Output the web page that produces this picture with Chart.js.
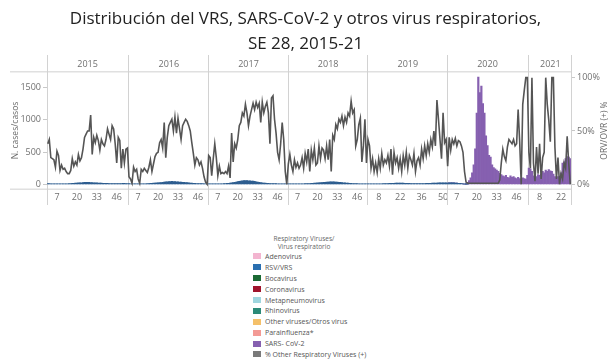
<!DOCTYPE html>
<html>
<head>
<meta charset="utf-8">
<script src="https://cdn.jsdelivr.net/npm/chart.js@4"></script>
<style>
  body { margin: 0; background: #fff; font-family: "Open Sans", sans-serif; }
  #wrap { position: relative; width: 611px; height: 362px; }
  #chartBox { position: absolute; left: 0; top: 0; width: 611px; height: 215px; }
  #legend { position: absolute; left: 253px; top: 235px; width: 140px; color: #555; }
  #legend .ttl { width: 98px; text-align: center; font-size: 6.5px; line-height: 8px; color: #666; margin-left: 2px; }
  #legend .item { display: flex; align-items: center; height: 10.9px; font-size: 7px; }
  #legend .sw { width: 8px; height: 6px; margin-right: 4px; }
</style>
</head>
<body>
<div id="wrap">
  <div id="chartBox"><canvas id="chart"></canvas></div>
  <div id="legend"></div>
</div>
<script>
// epi weeks per year and week numbers shown on the axis
const years = ['2015', '2016', '2017', '2018', '2019', '2020', '2021'];
const weeksInYear = [53, 52, 52, 52, 52, 53, 28];
const tickWeeks = [[7, 20, 33, 46], [7, 20, 33, 46], [7, 20, 33, 46], [7, 20, 33, 46], [8, 22, 36, 50], [7, 20, 33, 46], [8, 22]];

// % positive for other respiratory viruses (right axis)
const orv2015 = [38, 42, 25, 24, 23, 16, 31, 27, 13, 18, 14, 15, 12, 10, 10, 13, 24, 17, 21, 18, 28, 22, 25, 33, 44, 47, 50, 50, 65, 28, 44, 39, 46, 41, 32, 42, 38, 36, 42, 52, 47, 42, 55, 52, 38, 20, 44, 41, 15, 33, 20, 33, 34];
const orv2016 = [7, 5, 1, 16, 12, 14, 5, 1, 14, 12, 15, 13, 11, 16, 23, 12, 19, 26, 29, 30, 39, 42, 34, 58, 25, 44, 55, 58, 61, 50, 63, 48, 62, 52, 42, 55, 58, 61, 59, 55, 50, 39, 29, 18, 25, 23, 18, 21, 15, 7, 2, 0];
const orv2017 = [27, 25, 8, 24, 38, 25, 8, 17, 10, 11, 10, 12, 10, 17, 6, 48, 21, 38, 34, 42, 55, 58, 67, 64, 75, 67, 55, 64, 70, 76, 70, 77, 72, 76, 58, 77, 67, 73, 77, 67, 38, 81, 83, 61, 48, 30, 23, 38, 58, 42, 12, 0];
const orv2018 = [19, 28, 18, 12, 23, 16, 20, 15, 18, 25, 15, 29, 21, 33, 12, 32, 23, 34, 18, 20, 36, 24, 34, 32, 24, 36, 23, 42, 12, 46, 42, 56, 52, 61, 58, 64, 55, 63, 58, 67, 64, 78, 67, 70, 36, 42, 56, 62, 21, 36, 61, 20];
const orv2019 = [42, 36, 15, 24, 12, 20, 11, 24, 15, 29, 18, 23, 20, 27, 17, 33, 9, 30, 20, 25, 15, 24, 12, 27, 18, 30, 15, 27, 23, 18, 29, 12, 22, 25, 18, 33, 24, 36, 27, 38, 30, 42, 35, 50, 36, 79, 61, 42, 24, 67, 39, 42];
const orv2020 = [17, 44, 32, 42, 38, 43, 36, 41, 40, 36, 30, 12, 2, 1, 1, 1, 1, 1, 1, 1, 1, 1, 1, 1, 1, 1, 1, 1, 1, 1, 1, 1, 1, 1, 4, 20, 33, 26, 22, 35, 42, 40, 38, 42, 36, 38, 70, 40, 0, 75, 88, 100, 100];
const orv2021 = [30, 15, 100, 20, 3, 35, 10, 38, 5, 25, 30, 100, 75, 60, 40, 100, 100, 35, 5, 25, 0, 10, 5, 20, 15, 45, 20, 0];

// weekly case counts (left axis)
const rsv2015 = [12, 10, 8, 8, 6, 6, 5, 5, 6, 6, 5, 5, 6, 8, 10, 12, 14, 15, 18, 20, 22, 24, 25, 28, 30, 30, 32, 30, 28, 26, 25, 24, 22, 20, 18, 18, 16, 15, 14, 14, 12, 12, 12, 10, 10, 10, 10, 12, 12, 14, 14, 12, 12];
const rsv2016 = [10, 8, 8, 6, 6, 5, 5, 5, 6, 6, 6, 8, 10, 12, 14, 16, 18, 20, 22, 24, 26, 28, 30, 34, 38, 40, 42, 44, 45, 44, 42, 40, 38, 36, 34, 32, 30, 28, 26, 24, 20, 18, 16, 14, 12, 12, 10, 10, 10, 8, 8, 8];
const rsv2017 = [8, 8, 6, 6, 5, 5, 5, 6, 6, 8, 10, 12, 14, 16, 18, 22, 26, 30, 36, 42, 48, 52, 55, 58, 60, 58, 56, 55, 52, 50, 45, 40, 36, 32, 28, 24, 20, 18, 16, 14, 12, 12, 10, 10, 10, 8, 8, 8, 6, 6, 6, 6];
const rsv2018 = [6, 6, 5, 5, 5, 5, 5, 6, 6, 8, 8, 10, 10, 12, 12, 14, 16, 18, 20, 22, 24, 26, 28, 30, 32, 34, 36, 38, 40, 40, 38, 36, 34, 32, 30, 28, 24, 22, 20, 18, 16, 14, 12, 12, 10, 10, 8, 8, 8, 6, 6, 6];
const rsv2019 = [6, 6, 5, 5, 5, 5, 6, 6, 8, 8, 10, 10, 12, 12, 14, 14, 16, 16, 18, 18, 20, 20, 18, 18, 16, 16, 14, 14, 12, 12, 12, 10, 10, 10, 10, 10, 12, 12, 14, 14, 16, 16, 18, 18, 20, 20, 22, 22, 24, 24, 22, 22];
const rsv2020 = [20, 22, 24, 24, 22, 20, 18, 16, 14, 10, 6, 4, 2, 1];
const sars2020 = [0, 0, 0, 0, 0, 0, 0, 0, 0, 0, 0, 0, 10, 30, 60, 100, 180, 300, 550, 1100, 1660, 1420, 1520, 1250, 1100, 750, 600, 450, 420, 300, 260, 240, 220, 200, 170, 150, 130, 120, 140, 110, 100, 130, 110, 120, 100, 90, 110, 90, 80, 100, 90, 80, 140];
const sars2021 = [250, 240, 200, 130, 100, 120, 150, 140, 160, 200, 180, 220, 200, 230, 210, 200, 160, 120, 80, 120, 100, 180, 330, 350, 400, 430, 420, 400];

const virusNames = ['Adenovirus', 'RSV/VRS', 'Bocavirus', 'Coronavirus', 'Metapneumovirus', 'Rhinovirus', 'Other viruses/Otros virus', 'Parainfluenza*', 'SARS- CoV-2'];
const virusColors = ['#f3b5d0', '#2a6fb0', '#1b6a34', '#a0142c', '#9fd6df', '#2b8a78', '#f4c06a', '#f39a95', '#8660b0'];
const virusCases = [
    [],
    [rsv2015, rsv2016, rsv2017, rsv2018, rsv2019, rsv2020],
    [], [], [], [], [], [],
    [null, null, null, null, null, sars2020, sars2021]
];
const orvName = '% Other Respiratory Viruses (+)';
const orvColor = '#7a7a7a';

// one category per epi week
var labels = [];
var yearStarts = [];
years.forEach(function(y, k) {
    yearStarts.push(labels.length);
    for (var w = 1; w <= weeksInYear[k]; w++) labels.push(y + '-' + w);
});

function flatten(perYear) {
    var out = [];
    years.forEach(function(y, k) {
        var a = perYear[k] || [];
        for (var w = 0; w < weeksInYear[k]; w++) out.push(w < a.length ? a[w] : null);
    });
    return out;
}

var datasets = virusNames.map(function(name, i) {
    return {
        type: 'bar',
        label: name,
        data: flatten(virusCases[i]),
        backgroundColor: virusColors[i],
        borderWidth: 0,
        barPercentage: 1,
        categoryPercentage: 1,
        yAxisID: 'y',
        order: 1
    };
});
datasets[1].backgroundColor = '#2d5d8f';
datasets.push({
    type: 'line',
    label: orvName,
    data: flatten([orv2015, orv2016, orv2017, orv2018, orv2019, orv2020, orv2021]),
    borderColor: '#555555',
    backgroundColor: orvColor,
    borderWidth: 1.6,
    pointRadius: 0,
    tension: 0,
    yAxisID: 'y1',
    order: 0
});

var tickColor = '#707070';
var tickFont = { family: 'Open Sans', size: 9 };

// year separators, frame lines and axis titles
var framePlugin = {
    id: 'frame',
    beforeDatasetsDraw: function(chart) {
        var ctx = chart.ctx, area = chart.chartArea, x = chart.scales.x;
        var half = (x.getPixelForValue(1) - x.getPixelForValue(0)) / 2;
        ctx.save();
        ctx.strokeStyle = '#e0e0e0';
        ctx.lineWidth = 1.6;
        [area.top, area.bottom].forEach(function(yy) {
            ctx.beginPath(); ctx.moveTo(10, yy); ctx.lineTo(area.right, yy); ctx.stroke();
        });
        ctx.strokeStyle = '#d2d2d2';
        ctx.lineWidth = 1;
        yearStarts.concat([labels.length]).forEach(function(i) {
            var px = Math.round(x.getPixelForValue(i) - half) + 0.5;
            ctx.beginPath(); ctx.moveTo(px, 55); ctx.lineTo(px, 205); ctx.stroke();
        });
        ctx.restore();
    },
    afterDraw: function(chart) {
        var ctx = chart.ctx, area = chart.chartArea;
        var midY = (area.top + area.bottom) / 2;
        ctx.save();
        ctx.fillStyle = '#6a6a6a';
        ctx.font = '8.5px "Open Sans"';
        ctx.textAlign = 'center';
        ctx.textBaseline = 'middle';
        ctx.translate(16, midY); ctx.rotate(-Math.PI / 2);
        ctx.fillText('N. cases/casos', 0, 0);
        ctx.setTransform(1, 0, 0, 1, 0, 0);
        ctx.translate(605, midY); ctx.rotate(-Math.PI / 2);
        ctx.fillText('ORV/OVR (+) %', 0, 0);
        ctx.restore();
    }
};

var chart = new Chart(document.getElementById('chart'), {
    data: { labels: labels, datasets: datasets },
    options: {
        responsive: true,
        maintainAspectRatio: false,
        animation: false,
        layout: { padding: { left: 0, right: 0, top: 0, bottom: 9 } },
        plugins: {
            legend: { display: false },
            tooltip: { enabled: false },
            title: {
                display: true,
                text: ['Distribución del VRS, SARS-CoV-2 y otros virus respiratorios,', 'SE 28, 2015-21'],
                font: { family: 'Open Sans', size: 17, weight: 'normal', lineHeight: 1.5 },
                color: '#222',
                padding: { top: 6, bottom: 0 }
            }
        },
        scales: {
            x: {
                stacked: true,
                offset: true,
                grid: { display: false, drawTicks: false },
                border: { display: false },
                ticks: {
                    autoSkip: false, maxRotation: 0, padding: 3,
                    color: tickColor, font: tickFont,
                    callback: function(v, i) {
                        var p = labels[i].split('-');
                        var k = years.indexOf(p[0]);
                        return tickWeeks[k].indexOf(+p[1]) >= 0 ? p[1] : '';
                    }
                }
            },
            xTop: {
                type: 'category',
                position: 'top',
                offset: true,
                grid: { display: false, drawTicks: false },
                border: { display: false },
                ticks: {
                    autoSkip: false, maxRotation: 0, padding: 2,
                    color: tickColor, font: tickFont,
                    callback: function(v, i) {
                        var k = yearStarts.indexOf(i - Math.floor(weeksInYear[years.indexOf(labels[i].split('-')[0])] / 2));
                        return k >= 0 ? years[k] : '';
                    }
                }
            },
            y: {
                stacked: true,
                position: 'left',
                min: -75,
                max: 1740,
                afterBuildTicks: function(s) { s.ticks = [0, 500, 1000, 1500].map(function(v) { return { value: v }; }); },
                afterFit: function(s) { s.width = 47; },
                grid: { drawOnChartArea: false, tickLength: 4, color: '#c8c8c8' },
                border: { display: false },
                ticks: { padding: 2, color: tickColor, font: tickFont, callback: function(v) { return String(v); } }
            },
            y1: {
                position: 'right',
                min: -4.6,
                max: 105.5,
                afterBuildTicks: function(s) { s.ticks = [0, 50, 100].map(function(v) { return { value: v }; }); },
                afterFit: function(s) { s.width = 40; },
                grid: { drawOnChartArea: false, tickLength: 4, color: '#c8c8c8' },
                border: { display: false },
                ticks: { padding: 2, color: tickColor, font: tickFont, callback: function(v) { return v + '%'; } }
            }
        }
    },
    plugins: [framePlugin]
});

// legend below the chart, built from the datasets
var legend = document.getElementById('legend');
legend.innerHTML = '<div class="ttl">Respiratory Viruses/<br>Virus respiratorio</div>';
chart.data.datasets.forEach(function(ds, i) {
    var row = document.createElement('div');
    row.className = 'item';
    var swatch = i < virusColors.length ? virusColors[i] : ds.backgroundColor;
    row.innerHTML = '<span class="sw" style="background:' + swatch + '"></span><span>' + ds.label + '</span>';
    legend.appendChild(row);
});
</script>
</body>
</html>
